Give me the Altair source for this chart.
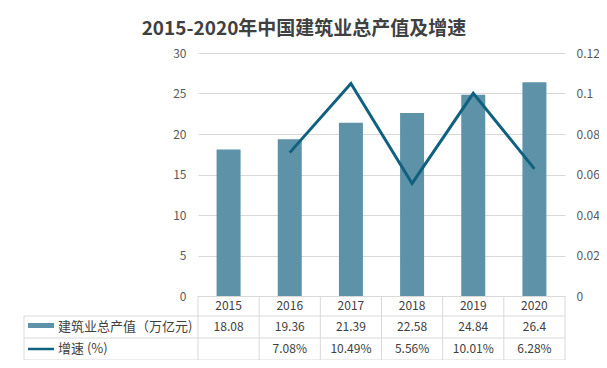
import altair as alt
import pandas as pd

# ---------------- data ----------------
years = ["2015", "2016", "2017", "2018", "2019", "2020"]
output_value = [18.08, 19.36, 21.39, 22.58, 24.84, 26.4]          # 万亿元
growth = [None, 0.0708, 0.1049, 0.0556, 0.1001, 0.0628]           # ratio
left_ticks = [0, 5, 10, 15, 20, 25, 30]
right_ticks = [0, 0.02, 0.04, 0.06, 0.08, 0.1, 0.12]
title_text = "2015-2020年中国建筑业总产值及增速"
series_names = ["建筑业总产值（万亿元)", "增速 (%)"]

df = pd.DataFrame({
    "year": years,
    "value": output_value,
    "value_label": [str(v) for v in output_value],
    "growth": growth,
})
one = pd.DataFrame({"k": [0]})

# ---------------- style ----------------
FONT = "Noto Sans CJK SC"
BAR = "#5e92a8"
LINE = "#10607f"
GRID = "#d9d9d9"
TXT = "#404040"
AX = "#595959"
W, H = 367, 243
ROW1, ROW2, ROW3 = 263, 285, 307   # table row bottoms (relative to plot top)
TLEFT = -174

xscale = alt.Scale(paddingInner=0, paddingOuter=0)
xaxis = alt.Axis(title=None, ticks=False, domainColor=GRID, labelPadding=4,
                 labelFont=FONT, labelFontSize=12, labelColor=TXT, labelAngle=0,
                 grid=False)
X = alt.X("year:N", sort=years, scale=xscale, axis=xaxis)
X0 = alt.X("year:N", sort=years, scale=xscale, axis=xaxis, bandPosition=0)

bars = alt.Chart(df).mark_bar(size=24, color=BAR).encode(
    x=X,
    y=alt.Y("value:Q", scale=alt.Scale(domain=[0, 30]),
            axis=alt.Axis(values=left_ticks, orient="left", grid=True, gridColor=GRID,
                          domain=False, ticks=False, labelPadding=12, title=None,
                          labelFont=FONT, labelFontSize=12, labelColor=AX)),
)

line = alt.Chart(df).transform_filter("isValid(datum.growth)").mark_line(
    color=LINE, strokeWidth=3, strokeJoin="miter").encode(
    x=X,
    y=alt.Y("growth:Q", scale=alt.Scale(domain=[0, 0.12]),
            axis=alt.Axis(values=right_ticks, orient="right", grid=False,
                          labelExpr="toString(round(datum.value * 100) / 100)",
                          domain=False, ticks=False, labelPadding=11, title=None,
                          labelFont=FONT, labelFontSize=12, labelColor=AX)),
)

vrules = alt.Chart(df).mark_rule(color=GRID, strokeWidth=1).encode(
    x=X0, y=alt.value(H), y2=alt.value(ROW3))
rright = alt.Chart(one).mark_rule(color=GRID, strokeWidth=1).encode(
    x=alt.value(W), y=alt.value(H), y2=alt.value(ROW3))
rleft = alt.Chart(one).mark_rule(color=GRID, strokeWidth=1).encode(
    x=alt.value(TLEFT), y=alt.value(ROW1), y2=alt.value(ROW3))
hrules = [alt.Chart(one).mark_rule(color=GRID, strokeWidth=1).encode(
    x=alt.value(TLEFT), x2=alt.value(W), y=alt.value(yy)) for yy in (ROW1, ROW2, ROW3)]

val_text = alt.Chart(df).mark_text(font=FONT, fontSize=12, color=TXT).encode(
    x=X, y=alt.value((ROW1 + ROW2) / 2), text="value_label:N")
gr_text = alt.Chart(df).transform_filter("isValid(datum.growth)").transform_calculate(
    gl="format(datum.growth * 100, '.2f') + '%'").mark_text(
    font=FONT, fontSize=12, color=TXT).encode(
    x=X, y=alt.value((ROW2 + ROW3) / 2), text="gl:N")

sw_bar = alt.Chart(one).mark_rect(color=BAR).encode(
    x=alt.value(-170), x2=alt.value(-144), y=alt.value(270), y2=alt.value(275))
sw_line = alt.Chart(one).mark_rule(color=LINE, strokeWidth=2.5).encode(
    x=alt.value(-170), x2=alt.value(-144), y=alt.value(296))

name1 = alt.Chart(one).mark_text(font=FONT, fontSize=13, color=TXT, align="left",
                                 baseline="middle", text=series_names[0]).encode(
    x=alt.value(-140), y=alt.value((ROW1 + ROW2) / 2))
name2 = alt.Chart(one).mark_text(font=FONT, fontSize=13, color=TXT, align="left",
                                 baseline="middle", text=series_names[1]).encode(
    x=alt.value(-140), y=alt.value((ROW2 + ROW3) / 2))

title = alt.Chart(one).mark_text(font=FONT, fontSize=19, fontWeight="bold", color=TXT,
                                 align="center", baseline="middle", text=title_text).encode(
    x=alt.value(106), y=alt.value(-24))

chart = alt.layer(
    bars, line, vrules, rright, rleft, *hrules, val_text, gr_text,
    sw_bar, sw_line, name1, name2, title
).resolve_scale(y="independent").properties(
    width=W, height=H,
    autosize=alt.AutoSizeParams(type="none"),
    padding={"left": 190, "top": 45, "right": 34, "bottom": 64},
    background="white",
).configure_view(stroke=None)

chart.save("out.html", embed_options={"renderer": "svg", "actions": False})
